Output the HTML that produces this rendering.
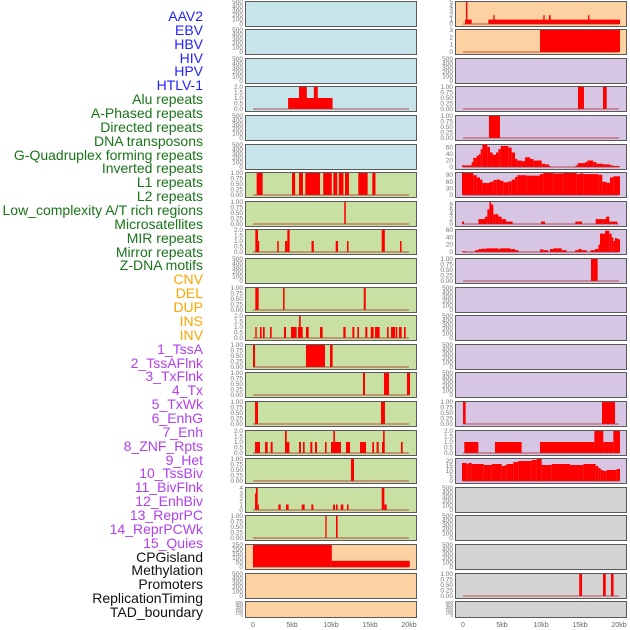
<!DOCTYPE html>
<html><head><meta charset="utf-8">
<style>
html,body{margin:0;padding:0;background:#fff;}
body{width:630px;height:630px;overflow:hidden;position:relative;font-family:"Liberation Sans",sans-serif;}
.lbl{position:absolute;right:427px;font-size:14px;white-space:nowrap;line-height:14px;}
svg{position:absolute;left:0;top:0;}
</style></head>
<body>
<div id="labels"></div>
<svg id="chart" width="630" height="630"></svg>
<script>
const labelNames = ["AAV2","EBV","HBV","HIV","HPV","HTLV-1","Alu repeats","A-Phased repeats","Directed repeats","DNA transposons","G-Quadruplex forming repeats","Inverted repeats","L1 repeats","L2 repeats","Low_complexity A/T rich regions","Microsatellites","MIR repeats","Mirror repeats","Z-DNA motifs","CNV","DEL","DUP","INS","INV","1_TssA","2_TssAFlnk","3_TxFlnk","4_Tx","5_TxWk","6_EnhG","7_Enh","8_ZNF_Rpts","9_Het","10_TssBiv","11_BivFlnk","12_EnhBiv","13_ReprPC","14_ReprPCWk","15_Quies","CPGisland","Methylation","Promoters","ReplicationTiming","TAD_boundary"];
const labelGroups = [6,13,5,15,5];
const groupColors = ["#2222ff","#1a741a","#ffa500","#b040f0","#111111"];

const xTicks = [0,5,10,15,20];
const xTickLabels = ["0","5kb","10kb","15kb","20kb"];

const T500 = [0,100,200,300,400,500];
const T1 = [0,0.25,0.5,0.75,1];
const T2 = [0,0.5,1,1.5,2];

const L_alu = [[4.5,10.2,1],[5.9,6.9,2],[7.8,8.3,2]];
const L_l1 = [[0.47,1.24,1],[5.0,5.4,1],[5.9,6.4,1],[6.7,8.6,1],[9.0,10.1,1],[10.3,10.8,1],[11.0,11.6,1],[11.8,12.3,1],[13.5,14.7,1],[15.3,15.7,1]];
const L_l2 = [[11.7,11.9,1]];
const L_lowc = [[0.3,0.64,2],[0.64,0.75,1],[3.1,3.3,1],[4.1,4.4,1],[4.4,4.7,2],[7.5,7.8,1],[10.6,10.9,1],[12.05,12.25,1],[16.5,16.9,2],[18.85,19.05,1]];
const L_mir = [[0.3,0.73,1],[3.85,4.05,1],[14.2,14.45,1]];
const L_cnv = [[0.3,0.47,1],[0.9,1.11,1],[1.28,1.5,1],[2.18,2.39,1],[3.97,4.23,1],[4.87,5.6,1],[5.77,6.37,1],[5.9,6.11,2],[6.79,7.14,1],[8.59,8.93,1],[11.58,11.88,1],[12.74,12.99,1],[13.38,13.59,1],[14.4,14.66,1],[15.09,15.47,1],[15.64,16.24,1],[17.18,17.39,1],[17.69,18.21,1],[18.29,18.5,1],[18.72,19.06,1],[19.36,19.57,1]];
const L_dup = [[0,0.26,1],[6.79,9.23,1],[9.87,10.21,1]];
const L_ins = [[14.1,14.36,1],[16.79,17.44,1],[19.74,20.13,1]];
const L_inv = [[0.26,0.64,1],[16.41,16.92,1]];
const L_tss = [[0.26,0.9,1],[1.54,1.88,1],[2.26,2.52,1],[4.1,4.66,1],[4.1,4.32,2],[5.9,6.15,1],[6.41,6.62,1],[7.35,7.61,1],[7.95,8.21,1],[9.23,9.44,1],[10.0,11.28,1],[10.3,10.51,2],[11.92,12.44,1],[13.72,14.49,1],[15.3,15.51,1],[15.85,16.11,1],[16.54,16.88,1],[16.67,16.88,2],[18.97,19.19,1]];
const L_tx = [[12.56,12.95,1]];
const L_enh = [[0.26,0.47,3],[0.38,0.6,4],[0.6,0.75,1],[3.25,3.55,1],[4.23,4.57,1],[6.24,6.62,1],[7.48,7.74,1],[10.26,10.51,1],[10.64,10.85,1],[11.24,11.58,1],[12.05,12.26,1],[16.5,16.84,4],[16.84,17.14,1]];
const L_het = [[9.27,9.44,1],[10.64,10.85,1]];
const L_cpg = [[0,10.1,250],[10.1,20.1,70]];

const R_aav = [[0.26,1.11,1],[0.38,0.56,5],[3.25,20.13,1],[3.89,4.06,2],[10.3,10.47,2],[11.03,11.24,2],[16.03,16.2,2]];
const R_ebv = [[9.87,20.13,3]];
const R_alu = [[14.74,15.51,1],[17.95,18.42,1]];
const R_dir = [[3.33,4.74,1]];
const R_gq = [[-0.13,1.11,5],[1.11,1.32,15],[1.32,1.75,28],[1.75,2.05,35],[2.05,2.26,40],[2.26,2.48,55],[2.48,2.69,68],[2.69,3.12,70],[3.12,3.46,62],[3.46,3.8,45],[3.8,4.23,38],[4.23,4.53,45],[4.53,4.83,55],[4.83,5.81,65],[5.81,6.24,60],[6.24,6.67,45],[6.67,6.97,25],[6.97,7.52,20],[7.52,7.95,18],[7.95,8.59,30],[8.59,9.02,25],[9.02,10.09,20],[10.09,10.51,10],[10.51,11.03,8],[11.03,11.24,3],[14.44,14.7,5],[14.7,15.64,12],[15.64,15.94,15],[15.94,16.71,20],[16.71,17.14,15],[17.14,17.99,10],[17.99,18.85,8],[18.85,19.27,5],[19.27,20.13,3]];
const R_inv = [[-0.13,1.32,100],[1.32,1.75,90],[1.75,2.18,80],[2.18,2.48,70],[2.48,3.03,55],[3.03,3.46,55],[3.46,3.89,60],[3.89,4.32,68],[4.32,4.74,70],[4.74,5.17,65],[5.17,5.81,58],[5.81,6.24,62],[6.24,6.67,70],[6.67,6.97,82],[6.97,8.16,90],[8.16,9.87,88],[9.87,10.3,95],[10.3,11.58,100],[11.58,12.86,98],[12.86,14.57,100],[14.57,15.0,95],[15.0,15.43,98],[15.43,17.35,95],[17.35,17.86,92],[17.86,18.42,60],[18.42,18.85,55],[18.85,19.27,80],[19.27,20.13,85]];
const R_l1 = [[-0.13,0.13,1],[1.97,2.82,2],[2.82,3.12,3],[3.12,3.38,6],[3.38,3.59,9],[3.59,3.89,8],[3.89,4.19,4],[4.19,4.53,4],[4.53,4.96,3],[4.96,5.51,2],[5.51,6.37,1],[10.0,10.51,1],[14.4,15.26,1],[17.01,17.99,2],[17.99,18.33,2],[18.33,18.76,3],[18.76,19.79,1]];
const R_l2 = [[-0.13,0.38,2],[1.54,1.97,5],[1.97,2.39,8],[2.39,3.03,9],[3.03,4.53,10],[4.53,4.74,8],[4.74,6.03,10],[6.03,6.67,8],[6.67,7.09,5],[9.87,10.3,7],[10.3,10.94,5],[11.15,11.58,8],[11.58,12.65,10],[12.65,13.29,5],[14.36,14.79,5],[14.79,15.21,8],[15.21,15.85,5],[16.37,16.92,5],[16.92,17.35,8],[17.35,17.56,20],[17.56,18.21,50],[18.21,18.76,58],[18.76,19.06,50],[19.06,19.27,40],[19.27,19.49,30],[19.49,19.79,38],[19.79,20.13,35]];
const R_low = [[16.41,17.26,1]];
const R_tss = [[0,0.34,1],[17.82,19.49,1]];
const R_tx = [[0.17,1.97,1],[4.1,7.52,1],[9.87,16.84,1],[16.84,17.99,2],[17.99,19.27,1],[19.27,20.13,2]];
const R_enh = [[-0.13,0.47,18],[0.47,0.68,17],[0.68,1.11,18],[1.11,2.65,17],[2.65,3.68,16],[3.68,4.96,17],[4.96,5.38,15],[5.38,5.6,16],[5.6,6.45,17],[6.45,7.09,19],[7.09,8.8,20],[8.8,9.44,21],[9.44,10.09,22],[10.09,11.37,16],[11.37,13.72,17],[13.72,15.43,16],[15.43,17.01,17],[17.01,17.35,15],[17.35,17.65,13],[17.65,17.99,11],[17.99,18.42,10],[18.42,19.7,11],[19.7,20.13,12]];
const R_prom = [[14.9,15.26,1],[17.95,18.3,1],[18.97,19.3,1]];

const BLUE="#c8e4eb", GREEN="#c8e0a2", PEACH="#fdd2a2", LAV="#d6c6e3", GRAY="#d3d3d3";
const leftPanels = [
 [BLUE,T500,500,[]],[BLUE,T500,500,[]],[BLUE,T500,500,[]],[BLUE,T2,2,L_alu],[BLUE,T500,500,[]],[BLUE,T500,500,[]],
 [GREEN,T1,1,L_l1],[GREEN,T1,1,L_l2],[GREEN,T2,2,L_lowc],[GREEN,T500,500,[]],[GREEN,T1,1,L_mir],[GREEN,T2,2,L_cnv],
 [GREEN,T1,1,L_dup],[GREEN,T1,1,L_ins],[GREEN,T1,1,L_inv],[GREEN,T2,2,L_tss],[GREEN,T1,1,L_tx],[GREEN,[0,1,2,3,4],4,L_enh],
 [GREEN,T1,1,L_het],[PEACH,[0,50,100,150,200,250],250,L_cpg],[PEACH,T500,500,[]],[PEACH,T500,500,[]]
];
const rightPanels = [
 [PEACH,[0,1,2,3,4,5],5,R_aav],[PEACH,[0,1,2,3],3,R_ebv],[LAV,T500,500,[]],[LAV,T1,1,R_alu],[LAV,T1,1,R_dir],[LAV,[0,20,40,60],68,R_gq],
 [LAV,[0,30,60,90],100,R_inv],[LAV,[0,2,4,6,8],9,R_l1],[LAV,[0,20,40,60],60,R_l2],[LAV,T1,1,R_low],[LAV,T500,500,[]],[LAV,T500,500,[]],
 [LAV,T500,500,[]],[LAV,T500,500,[]],[LAV,T1,1,R_tss],[LAV,T2,2,R_tx],[LAV,[0,5,10,15,20],22,R_enh],[GRAY,T500,500,[]],
 [GRAY,T500,500,[]],[GRAY,T500,500,[]],[GRAY,T1,1,R_prom],[GRAY,T500,500,[]]
];

const NS="http://www.w3.org/2000/svg";
const svg=document.getElementById('chart');
function mk(tag,attrs,parent){const e=document.createElementNS(NS,tag);for(const k in attrs)e.setAttribute(k,attrs[k]);(parent||svg).appendChild(e);return e;}

const lab=document.getElementById('labels');
let li=0;
labelGroups.forEach((n,g)=>{for(let k=0;k<n;k++){const d=document.createElement('div');d.className='lbl';d.textContent=labelNames[li];d.style.color=groupColors[g];d.style.top=(9+li*13.86)+'px';


lab.appendChild(d);li++;}});

function fmt(t,ticks){if(ticks===T1)return t.toFixed(2);if(ticks===T2)return t.toFixed(1);return String(t);}

function drawCol(panels,px,x0,side){
 panels.forEach((p,i)=>{
  const [bg,ticks,ymax,segs]=p;
  const top=Math.round(0.5+i*28.6);
  const h=(i===21)?16:25;
  const xs=kb=>x0+kb*7.8;
  const y0=top+h-2, y1=top+1;
  const ys=v=>y0-(v/ymax)*(y0-y1);
  const g=mk('g',{});
  
  
  mk('rect',{x:px+0.5,y:top+0.5,width:171,height:h,fill:bg,stroke:'#5a5a5a','stroke-width':1},g);
  segs.forEach(s=>{
   const a=Math.max(xs(s[0]),px+1), b=xs(s[1]);
   const r=mk('rect',{x:a,y:ys(s[2]),width:Math.max(b-a,1.2),height:y0-ys(s[2]),fill:'#ff0000'},g);
   
   
  });
  if(segs.length){mk('line',{x1:xs(0),x2:xs(20),y1:y0,y2:y0,stroke:'#b03030','stroke-opacity':0.55,'stroke-width':1.5},g);}
  ticks.forEach(t=>{
   const tx=mk('text',{x:px-2,y:ys(t)+2,'font-size':(i===21?4.5:6.5),fill:'#777','text-anchor':'end','font-family':'Liberation Sans, sans-serif'},g);
   tx.textContent=fmt(t,ticks);
   
   
  });
 });
 xTicks.forEach((t,k)=>{
  const tx=mk('text',{x:x0+t*7.8,y:627,'font-size':7,fill:'#666','text-anchor':'middle','font-family':'Liberation Sans, sans-serif'});
  tx.textContent=xTickLabels[k];
  
  
 });
}
drawCol(leftPanels,245,253,'left');
drawCol(rightPanels,455,463,'right');
</script>
</body></html>
